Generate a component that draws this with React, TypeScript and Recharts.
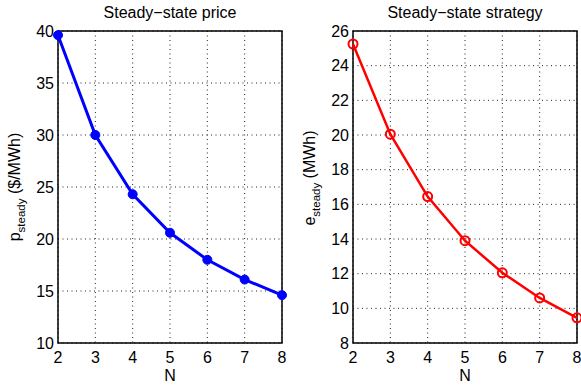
import React from 'react';
import { LineChart, Line, XAxis, YAxis, CartesianGrid, ReferenceArea } from 'recharts';

const nValues = [2, 3, 4, 5, 6, 7, 8];
const priceSteady = [39.6, 30.0, 24.3, 20.6, 18.0, 16.1, 14.6];
const strategySteady = [25.25, 20.05, 16.45, 13.9, 12.05, 10.6, 9.45];

const priceTicks = [10, 15, 20, 25, 30, 35, 40];
const strategyTicks = [8, 10, 12, 14, 16, 18, 20, 22, 24, 26];

const priceData = nValues.map((n, i) => ({ n, value: priceSteady[i] }));
const strategyData = nValues.map((n, i) => ({ n, value: strategySteady[i] }));

const FONT = '"Liberation Sans", Arial, Helvetica, sans-serif';

// rotated y label with a subscript, e.g. p_steady ($/MWh)
const YLabel = (props: any) => {
  const { viewBox, base, sub, unit, shiftY = 0 } = props;
  if (!viewBox) return null;
  const x = viewBox.x + viewBox.width - 38;
  const y = viewBox.y + viewBox.height / 2 + shiftY;
  return (
    <text
      x={x}
      y={y}
      transform={`rotate(-90, ${x}, ${y})`}
      textAnchor="middle"
      fill="#000"
      fontSize={16}
      fontFamily={FONT}
    >
      {base}
      <tspan fontSize={11.5} dy={5}>{sub}</tspan>
      <tspan fontSize={16} dy={-5}>{' ' + unit}</tspan>
    </text>
  );
};

const Title = ({ left, width, text }: { left: number; width: number; text: string }) => (
  <div
    style={{
      position: 'absolute',
      left,
      top: 3.5,
      width,
      textAlign: 'center',
      fontSize: 16,
      lineHeight: '18px',
      color: '#000',
    }}
  >
    {text}
  </div>
);

export default function App() {
  return (
    <div
      style={{
        position: 'absolute',
        left: 0,
        top: 0,
        width: 581,
        height: 387,
        background: '#fff',
        fontFamily: FONT,
        overflow: 'hidden',
      }}
    >
      <Title left={58} width={224} text="Steady−state price" />
      <Title left={353} width={224} text="Steady−state strategy" />

      <div style={{ position: 'absolute', left: 0, top: 0 }}>
        <LineChart width={290} height={387} data={priceData} margin={{ top: 31, right: 8, left: 0, bottom: 0 }}>
          <CartesianGrid stroke="#222" strokeDasharray="1 3.5" />
          <ReferenceArea x1={2} x2={8} y1={10} y2={40} fill="none" stroke="#000" strokeWidth={1.5} />
          <XAxis
            dataKey="n"
            type="number"
            domain={[2, 8]}
            ticks={nValues}
            height={44}
            axisLine={false}
            tickLine={false}
            tickSize={6}
            tickMargin={3}
            tick={{ fill: '#000', fontSize: 16 }}
            label={{ value: 'N', position: 'insideBottom', offset: 6, fill: '#000', fontSize: 16 }}
          />
          <YAxis
            type="number"
            domain={[10, 40]}
            ticks={priceTicks}
            width={58}
            axisLine={false}
            tickLine={false}
            tickSize={2}
            tickMargin={2}
            tick={{ fill: '#000', fontSize: 16 }}
            label={<YLabel base="p" sub="steady" unit="($/MWh)" />}
          />
          <Line
            type="linear"
            dataKey="value"
            stroke="#0000ff"
            strokeWidth={3}
            dot={{ r: 4.5, fill: '#0000ff', stroke: '#0000ff', strokeWidth: 1 }}
            isAnimationActive={false}
          />
        </LineChart>
      </div>

      <div style={{ position: 'absolute', left: 290, top: 0 }}>
        <LineChart width={291} height={387} data={strategyData} margin={{ top: 31, right: 4, left: 0, bottom: 0 }}>
          <CartesianGrid stroke="#222" strokeDasharray="1 3.5" />
          <ReferenceArea x1={2} x2={8} y1={8} y2={26} fill="none" stroke="#000" strokeWidth={1.5} />
          <XAxis
            dataKey="n"
            type="number"
            domain={[2, 8]}
            ticks={nValues}
            height={44}
            axisLine={false}
            tickLine={false}
            tickSize={6}
            tickMargin={3}
            tick={{ fill: '#000', fontSize: 16 }}
            label={{ value: 'N', position: 'insideBottom', offset: 6, fill: '#000', fontSize: 16 }}
          />
          <YAxis
            type="number"
            domain={[8, 26]}
            ticks={strategyTicks}
            width={63}
            axisLine={false}
            tickLine={false}
            tickSize={2}
            tickMargin={2}
            tick={{ fill: '#000', fontSize: 16 }}
            label={<YLabel base="e" sub="steady" unit="(MWh)" shiftY={-9} />}
          />
          <Line
            type="linear"
            dataKey="value"
            stroke="#ff0000"
            strokeWidth={2.5}
            dot={{ r: 4.5, fill: 'none', stroke: '#ff0000', strokeWidth: 2 }}
            isAnimationActive={false}
          />
        </LineChart>
      </div>
    </div>
  );
}
